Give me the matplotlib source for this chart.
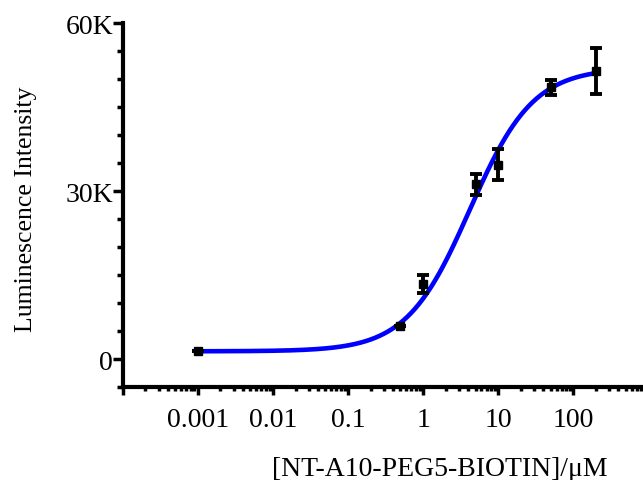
import numpy as np
import matplotlib
matplotlib.use("Agg")
import matplotlib.pyplot as plt
from matplotlib.ticker import FixedLocator, LogLocator, NullFormatter

plt.rcParams['font.family'] = ['Liberation Serif', 'DejaVu Serif']

# данные
conc = [0.001, 0.5, 1, 5, 10, 50, 200]            # мкМ
lum = [1400, 6000, 13400, 31200, 34700, 48500, 51400]
lum_err = [0, 0, 1600, 1900, 2800, 1400, 4100]

# параметры 4PL-аппроксимации (подобраны по кривой на рисунке)
fit_bottom = 1400
fit_top = 52000
fit_ec50 = 4.2
fit_hill = 1.03

xtick_vals = [1e-4, 1e-3, 1e-2, 1e-1, 1, 10, 100]
xtick_labels = ['', '0.001', '0.01', '0.1', '1', '10', '100']
ytick_vals = [0, 30000, 60000]
ytick_labels = ['0', '30K', '60K']

fig = plt.figure(figsize=(6.43, 4.81), dpi=100)
ax = fig.add_axes([0.191, 0.193, 0.809, 0.757])

xs = np.logspace(np.log10(conc[0]), np.log10(conc[-1]), 400)
ys = fit_bottom + (fit_top - fit_bottom) / (1 + (fit_ec50 / xs) ** fit_hill)
ax.plot(xs, ys, color='#0000ff', lw=3.3, zorder=3)

ax.errorbar(conc, lum, yerr=lum_err, fmt='s', color='black', ms=5.5,
            ecolor='black', elinewidth=2.8, capsize=4, capthick=2.8, zorder=4)

ax.set_xscale('log')
ax.set_xlim(1e-4, 10 ** 2.93)
ax.set_ylim(-5000, 60000)

ax.xaxis.set_major_locator(FixedLocator(xtick_vals))
ax.set_xticklabels(xtick_labels)
ax.xaxis.set_minor_locator(LogLocator(base=10, subs=np.arange(2, 10)))
ax.xaxis.set_minor_formatter(NullFormatter())

ax.yaxis.set_major_locator(FixedLocator(ytick_vals))
ax.set_yticklabels(ytick_labels)
ax.yaxis.set_minor_locator(FixedLocator(np.arange(-5000, 60001, 5000)))

for s in ['top', 'right']:
    ax.spines[s].set_visible(False)
for s in ['left', 'bottom']:
    ax.spines[s].set_linewidth(3)

ax.tick_params(axis='x', which='major', length=6, width=2.5, labelsize=20,
               direction='out', pad=8)
ax.tick_params(axis='x', which='minor', length=3, width=2.5, direction='out')
ax.tick_params(axis='y', which='major', length=7, width=2.5, labelsize=20,
               direction='out', pad=0)
ax.tick_params(axis='y', which='minor', length=4, width=2.5, direction='out')

ax.set_xlabel('[NT-A10-PEG5-BIOTIN]/\u03bcM', fontsize=20)
ax.set_ylabel('Luminescence Intensity', fontsize=18.5)
ax.xaxis.set_label_coords(0.61, -0.19)
ax.yaxis.set_label_coords(-0.165, 0.49)

fig.savefig('out.png', dpi=100)
